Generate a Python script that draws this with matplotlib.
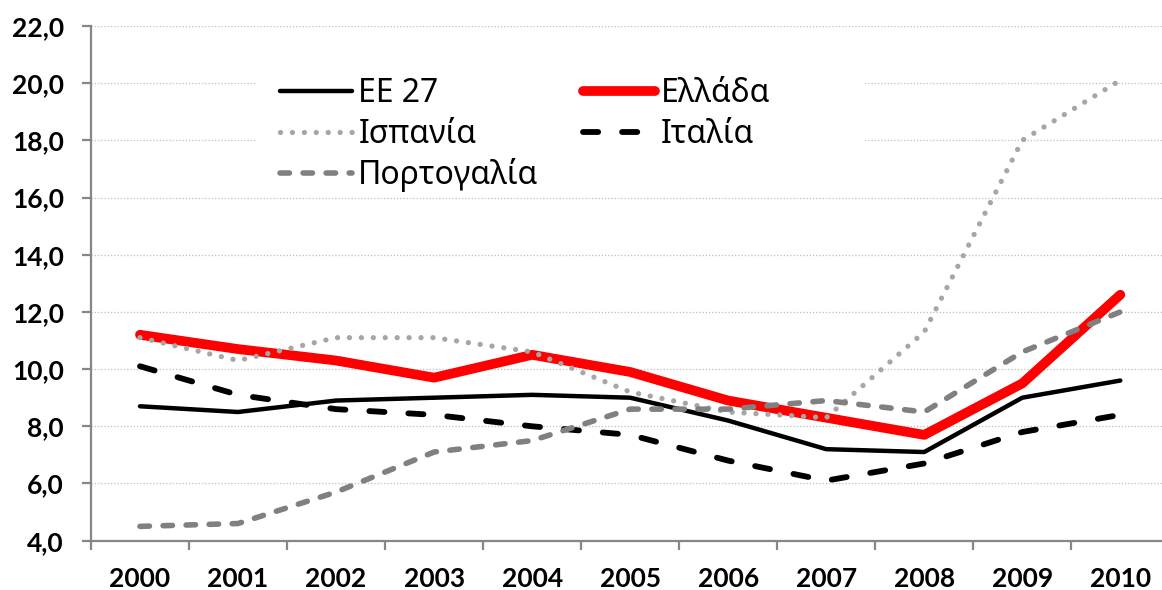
import matplotlib
matplotlib.use("Agg")
import matplotlib.pyplot as plt
from matplotlib.patches import Rectangle
from matplotlib.ticker import FuncFormatter, MultipleLocator, FixedLocator

years = ["2000", "2001", "2002", "2003", "2004", "2005", "2006", "2007", "2008", "2009", "2010"]
ee27 = [8.7, 8.5, 8.9, 9.0, 9.1, 9.0, 8.2, 7.2, 7.1, 9.0, 9.6]
ellada = [11.2, 10.7, 10.3, 9.7, 10.5, 9.9, 8.9, 8.3, 7.7, 9.5, 12.6]
ispania = [11.1, 10.3, 11.1, 11.1, 10.6, 9.2, 8.5, 8.3, 11.3, 18.0, 20.1]
italia = [10.1, 9.1, 8.6, 8.4, 8.0, 7.7, 6.8, 6.1, 6.7, 7.8, 8.4]
portogalia = [4.5, 4.6, 5.7, 7.1, 7.5, 8.6, 8.6, 8.9, 8.5, 10.6, 12.0]

x = list(range(len(years)))

fig = plt.figure(figsize=(11.62, 5.90), dpi=100)
ax = fig.add_axes([0.0783, 0.0836, 0.928, 0.8724])  # plot area runs off the right edge like the original

# lines, in the same draw order as the excel chart
l_ee, = ax.plot(x, ee27, color="black", lw=3.2, solid_capstyle="round", zorder=3, label="EE 27")
l_gr, = ax.plot(x, ellada, color="#ff0000", lw=7.0, solid_capstyle="round", solid_joinstyle="round", zorder=3, label="Ελλάδα")
l_es, = ax.plot(x, ispania, color="#a6a6a6", lw=3.8, linestyle=(0, (0.01, 2.25)), dash_capstyle="round", zorder=3, label="Ισπανία")
l_it, = ax.plot(x, italia, color="black", lw=4.2, linestyle=(0, (2.6, 4.1)), dash_capstyle="round", zorder=3, label="Ιταλία")
l_pt, = ax.plot(x, portogalia, color="#808080", lw=4.0, linestyle=(0, (1.7, 2.45)), dash_capstyle="round", zorder=3, label="Πορτογαλία")

ax.set_xlim(-0.5, 10.5)
ax.set_ylim(4, 22)

# dotted grid
ax.yaxis.set_major_locator(MultipleLocator(2))
ax.grid(axis="y", color="#bfbfbf", lw=0.9, linestyle=(0, (1, 1.6)), zorder=0)
ax.set_axisbelow(True)

# white box behind the legend hides the grid there
ax.add_patch(Rectangle((0.154, 0.681), 0.562, 0.253, transform=ax.transAxes,
                       facecolor="white", edgecolor="none", zorder=1))

# spines
for s in ["top", "right"]:
    ax.spines[s].set_visible(False)
for s in ["left", "bottom"]:
    ax.spines[s].set_color("#868686")
    ax.spines[s].set_linewidth(1.6)

# x labels on categories, tick marks between them
ax.set_xticks(x)
ax.set_xticklabels(years)
ax.xaxis.set_minor_locator(FixedLocator([i - 0.5 for i in range(len(years) + 1)]))
ax.tick_params(axis="x", which="major", length=0, pad=19)
ax.tick_params(axis="x", which="minor", length=6.5, width=1.6, color="#868686", direction="out")
ax.tick_params(axis="y", length=6.5, width=1.6, color="#868686", direction="out", pad=13)

ax.yaxis.set_major_formatter(FuncFormatter(lambda v, p: f"{v:.1f}".replace(".", ",")))
for lab in ax.get_xticklabels() + ax.get_yticklabels():
    lab.set_fontfamily(["Lato", "DejaVu Sans"])
    lab.set_fontweight("bold")
    lab.set_fontsize(19)

leg = ax.legend([l_ee, l_es, l_pt, l_gr, l_it],
                ["EE 27", "Ισπανία", "Πορτογαλία", "Ελλάδα", "Ιταλία"],
                ncol=2, loc="upper left", bbox_to_anchor=(0.1753, 0.900),
                frameon=False, borderpad=0, borderaxespad=0,
                handlelength=2.26, handletextpad=0.19, columnspacing=1.38,
                labelspacing=0.23, prop={"family": ["Noto Sans", "DejaVu Sans"], "size": 23})
leg.set_zorder(4)

fig.savefig("out.png", dpi=100)
